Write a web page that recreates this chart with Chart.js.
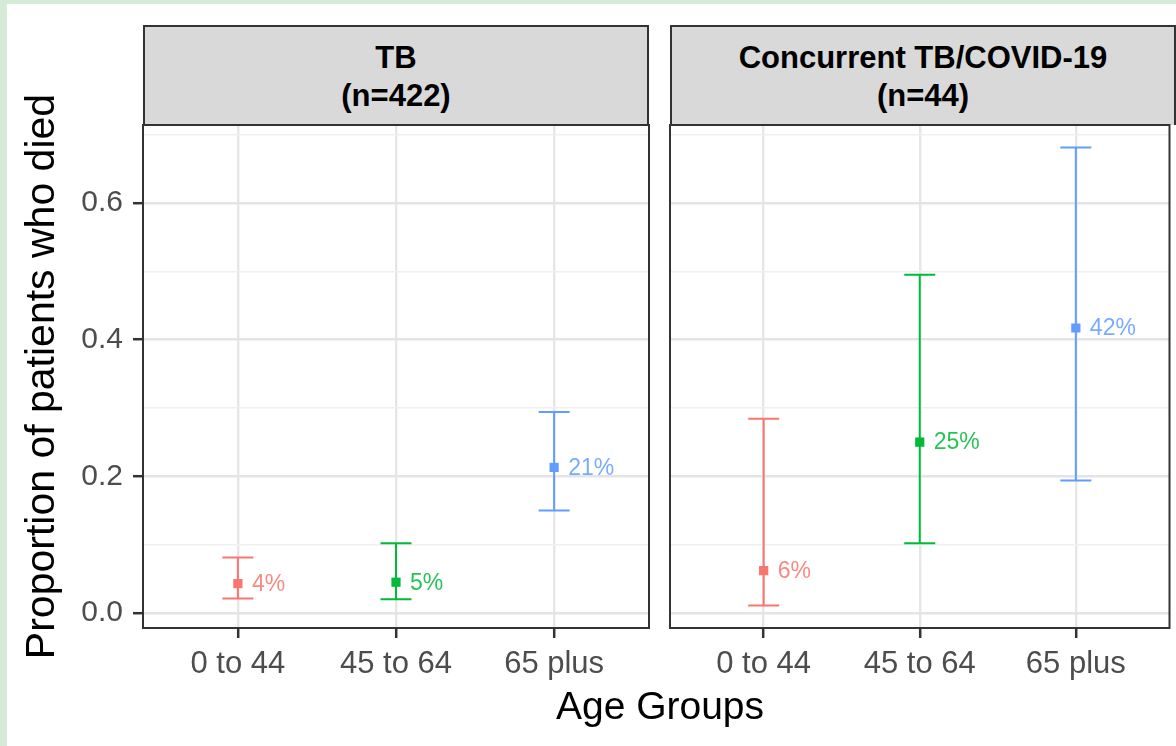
<!DOCTYPE html>
<html>
<head>
<meta charset="utf-8">
<script src="https://cdn.jsdelivr.net/npm/chart.js@4.4.1/dist/chart.umd.min.js"></script>
<style>
  body { margin: 0; width: 1176px; height: 746px; overflow: hidden; background: #d5ebd6; font-family: "Liberation Sans", Arial, sans-serif; }
  #page { position: absolute; left: 7px; top: 4px; width: 1169px; height: 742px; background: #fff; }
  canvas { position: absolute; top: 4px; }
  .strip { position: absolute; top: 25px; height: 100px; box-sizing: border-box; background: #d9d9d9;
           border: 2px solid #333; border-bottom: none; text-align: center; font-weight: bold; font-size: 31px;
           line-height: 38px; padding-top: 12px; color: #000; }
  #xtitle { position: absolute; left: 0; width: 1320px; top: 684px; text-align: center; font-size: 39px; color: #000; }
</style>
</head>
<body>
<div id="page"></div>
<div class="strip" style="left:143px;width:506px;">TB<br>(n=422)</div>
<div class="strip" style="left:670px;width:506px;">Concurrent TB/COVID-19<br>(n=44)</div>
<canvas id="tb" width="660" height="742" style="left:0px"></canvas>
<canvas id="cov" width="516" height="742" style="left:660px"></canvas>
<div id="xtitle">Age Groups</div>
<script>
// age groups and colours (ggplot default hues)
const ageGroups = ['0 to 44', '45 to 64', '65 plus'];
const groupColors = ['#F8766D', '#00BA38', '#619CFF'];

// TB only (n=422)
const tbEst = [0.043, 0.045, 0.213];
const tbLow = [0.021, 0.020, 0.150];
const tbHigh = [0.081, 0.102, 0.294];
const tbLabels = ['4%', '5%', '21%'];

// Concurrent TB/COVID-19 (n=44)
const covEst = [0.062, 0.250, 0.417];
const covLow = [0.011, 0.102, 0.194];
const covHigh = [0.284, 0.495, 0.681];
const covLabels = ['6%', '25%', '42%'];

// y axis
const yMajor = [0, 0.2, 0.4, 0.6];
const yMinor = [0.1, 0.3, 0.5, 0.7];
const yMin = -0.022, yMax = 0.714;

const FONT = '"Liberation Sans", Arial, sans-serif';

function isMajor(v) {
    return yMajor.some(m => Math.abs(m - v) < 1e-6);
}

// error bars, drawn under the points
const errorBars = {
    id: 'errorBars',
    beforeDatasetsDraw(chart) {
        const ctx = chart.ctx;
        const ds = chart.data.datasets[0];
        const meta = chart.getDatasetMeta(0);
        const yScale = chart.scales.y;
        ctx.save();
        meta.data.forEach((pt, i) => {
            const yLo = yScale.getPixelForValue(ds.low[i]);
            const yHi = yScale.getPixelForValue(ds.high[i]);
            ctx.strokeStyle = groupColors[i];
            ctx.lineWidth = 2;
            ctx.beginPath();
            ctx.moveTo(pt.x, yLo); ctx.lineTo(pt.x, yHi);
            ctx.moveTo(pt.x - 15.5, yLo); ctx.lineTo(pt.x + 15.5, yLo);
            ctx.moveTo(pt.x - 15.5, yHi); ctx.lineTo(pt.x + 15.5, yHi);
            ctx.stroke();
        });
        ctx.restore();
    },
    afterDatasetsDraw(chart) {
        // percent labels next to each estimate
        const ctx = chart.ctx;
        const ds = chart.data.datasets[0];
        const meta = chart.getDatasetMeta(0);
        ctx.save();
        ctx.font = '23px ' + FONT;
        ctx.textBaseline = 'middle';
        ctx.textAlign = 'left';
        meta.data.forEach((pt, i) => {
            ctx.fillStyle = groupColors[i];
            ctx.globalAlpha = 0.85;
            ctx.fillText(ds.pctLabels[i], pt.x + 14, pt.y + 1);
        });
        ctx.restore();
    }
};

// panel frame
const panelBox = {
    id: 'panelBox',
    afterDraw(chart) {
        const a = chart.chartArea;
        const ctx = chart.ctx;
        ctx.save();
        ctx.strokeStyle = '#333';
        ctx.lineWidth = 2;
        ctx.strokeRect(a.left, a.top, a.right - a.left, a.bottom - a.top);
        ctx.restore();
    }
};

function makePanel(id, est, low, high, labels, showY) {
    const yAxis = {
        min: yMin,
        max: yMax,
        afterBuildTicks: s => { s.ticks = yMajor.concat(yMinor).sort().map(v => ({ value: v })); },
        afterFit: s => {
            s.width = showY ? 143 : 10;
            s.paddingTop = 0;
            s.paddingBottom = 0;
        },
        border: { display: false },
        grid: {
            color: c => isMajor(c.tick.value) ? '#e4e4e4' : '#efefef',
            lineWidth: c => isMajor(c.tick.value) ? 2.4 : 1.4,
            drawTicks: true,
            tickLength: 10,
            tickWidth: 2.5,
            tickColor: c => (showY && isMajor(c.tick.value)) ? '#333' : 'rgba(0,0,0,0)'
        },
        ticks: {
            display: showY,
            padding: 10,
            color: '#4d4d4d',
            font: { size: 30, family: FONT },
            callback: v => isMajor(v) ? v.toFixed(1) : ''
        },
        title: {
            display: showY,
            text: 'Proportion of patients who died',
            color: '#000',
            font: { size: 41, family: FONT },
            padding: { top: 18, bottom: 0 }
        }
    };
    return new Chart(document.getElementById(id), {
        type: 'scatter',
        data: {
            datasets: [{
                data: est.map((v, i) => ({ x: i + 1, y: v })),
                low: low,
                high: high,
                pctLabels: labels,
                pointStyle: 'rect',
                pointRadius: 6.5,
                pointBorderWidth: 0,
                backgroundColor: groupColors,
                borderColor: groupColors
            }]
        },
        options: {
            responsive: false,
            animation: false,
            devicePixelRatio: 1,
            layout: { padding: { top: 121, right: showY ? 11 : 1, left: 0, bottom: 0 } },
            plugins: { legend: { display: false }, tooltip: { enabled: false } },
            scales: {
                x: {
                    type: 'linear',
                    min: 0.4,
                    max: 3.6,
                    afterBuildTicks: s => { s.ticks = ageGroups.map((g, i) => ({ value: i + 1 })); },
                    afterFit: s => {
                        s.height = 118;
                        s.paddingLeft = 0;
                        s.paddingRight = 0;
                    },
                    border: { display: false },
                    grid: {
                        color: '#e6e6e6',
                        lineWidth: 2.4,
                        tickLength: 10,
                        tickWidth: 2.5,
                        tickColor: '#333'
                    },
                    ticks: {
                        padding: 8,
                        color: '#4d4d4d',
                        font: { size: 31, family: FONT },
                        callback: v => ageGroups[Math.round(v) - 1]
                    }
                },
                y: yAxis
            }
        },
        plugins: [errorBars, panelBox]
    });
}

makePanel('tb', tbEst, tbLow, tbHigh, tbLabels, true);
makePanel('cov', covEst, covLow, covHigh, covLabels, false);
</script>
</body>
</html>
